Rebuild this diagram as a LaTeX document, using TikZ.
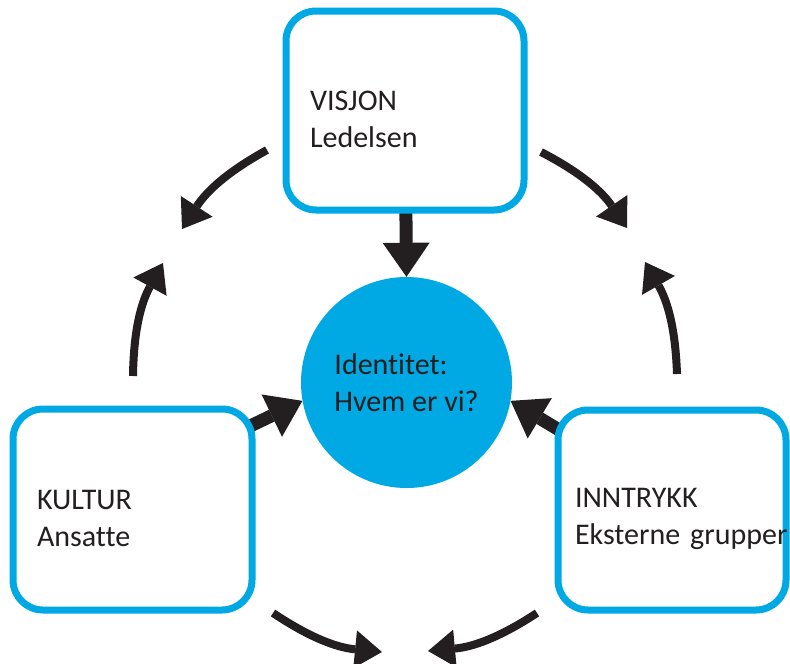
\documentclass[tikz,border=0pt]{standalone}
\usepackage{fontspec}
\setmainfont{Carlito}[Ligatures=NoCommon]
\usetikzlibrary{arrows.meta,backgrounds,calc}
\definecolor{boxblue}{HTML}{00A9E4}
\definecolor{ink}{HTML}{231F20}
\newcommand\toplift{\rule{0pt}{38pt}}
\begin{document}
\begin{tikzpicture}[x=1pt,y=-1pt,
  labelfont/.style={font=\fontsize{30}{37}\selectfont},
  box/.style={draw=boxblue, fill=white, line width=7pt, rounded corners=30pt,
    align=left, inner ysep=0pt, text=ink, labelfont},
  hub/.style={circle, fill=boxblue, minimum size=211pt, inner sep=0pt,
    align=left, text=ink, labelfont},
  bigarrow/.style={draw=ink, line width=13pt,
    -{Triangle[length=34pt,width=47pt,line width=0pt]}},
  cyclearrow/.style={draw=ink, line width=8pt,
    -{Triangle[length=27pt,width=38pt,line width=0pt]}}
]
\useasboundingbox (0,0) rectangle (790,664);

% nodes
\node[box, minimum width=238pt, minimum height=199pt, text width=190pt, inner xsep=24pt]
  (visjon) at (405,110.5) {\toplift VISJON\\Ledelsen};
\node[box, minimum width=239pt, minimum height=201pt, text width=191pt, inner xsep=24pt]
  (kultur) at (132.5,509.5) {\toplift KULTUR\\Ansatte};
\node[box, minimum width=228pt, minimum height=200pt, text width=194pt, inner xsep=17pt]
  (inntrykk) at (672,510) {\toplift INNTRYKK\\\mbox{Eksterne grupper}};
\node[hub] (id) at (406.5,382.5) {Identitet:\\Hvem er vi?};

% straight arrows into the centre
\begin{scope}[on background layer]
\draw[bigarrow] (visjon.center) -- (id.north);
\draw[bigarrow] ($(kultur.35)+(-6,3)$) -- (id.190);
\draw[bigarrow] ($(inntrykk.145)+(6,3)$) -- (id.-10);
\end{scope}

% cycle arrows
\coordinate (a1s) at (267,150);  \coordinate (a1e) at (182,229);
\coordinate (a2s) at (541,152);  \coordinate (a2e) at (627,228);
\coordinate (a3s) at (133,376);  \coordinate (a3e) at (163,263);
\coordinate (a4s) at (677,374);  \coordinate (a4e) at (645,262);
\coordinate (a5s) at (273,613);  \coordinate (a5e) at (382,652);
\coordinate (a6s) at (537,613);  \coordinate (a6e) at (428,651);

\draw[cyclearrow] (a1s) to[bend right=14] (a1e);
\draw[cyclearrow] (a2s) to[bend left=14] (a2e);
\draw[cyclearrow] (a3s) to[bend left=14] (a3e);
\draw[cyclearrow] (a4s) to[bend right=14] (a4e);
\draw[cyclearrow] (a5s) to[bend right=14] (a5e);
\draw[cyclearrow] (a6s) to[bend left=14] (a6e);
\end{tikzpicture}
\end{document}
